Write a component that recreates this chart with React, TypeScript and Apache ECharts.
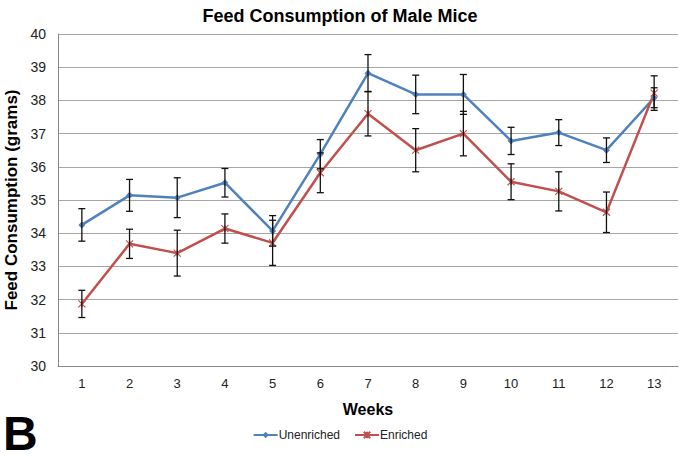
import React, { useEffect, useRef } from "react";
import * as echarts from "echarts";

const weeks = ["1", "2", "3", "4", "5", "6", "7", "8", "9", "10", "11", "12", "13"];
const unenriched = [34.25, 35.14, 35.07, 35.52, 34.07, 36.38, 38.82, 38.18, 38.18, 36.78, 37.03, 36.5, 38.08];
const unenrichedErr = [0.49, 0.48, 0.6, 0.43, 0.46, 0.44, 0.56, 0.58, 0.6, 0.41, 0.39, 0.37, 0.3];
const enriched = [31.87, 33.68, 33.4, 34.14, 33.71, 35.82, 37.6, 36.5, 37.0, 35.55, 35.26, 34.63, 38.22];
const enrichedErr = [0.41, 0.44, 0.69, 0.44, 0.68, 0.6, 0.67, 0.65, 0.67, 0.54, 0.59, 0.61, 0.52];

const FONT = "Liberation Sans, Arial, sans-serif";
const BLUE = "#4F81BD";
const RED = "#C0504D";
const XPATH = "path://M0,0 L10,10 M10,0 L0,10 M5,0 L5,10";

function errData(vals: number[], errs: number[]) {
  return vals.map((v, i) => [i, v - errs[i], v + errs[i]]);
}

function errSeries(name: string, vals: number[], errs: number[]) {
  return {
    type: "custom",
    name: name + "_err",
    z: 5,
    silent: true,
    data: errData(vals, errs),
    renderItem: (params: any, api: any) => {
      const x = api.value(0);
      const lo = api.coord([x, api.value(1)]);
      const hi = api.coord([x, api.value(2)]);
      const w = 3.5;
      const style = { stroke: "#111", lineWidth: 1.3 };
      return {
        type: "group",
        children: [
          { type: "line", shape: { x1: lo[0], y1: lo[1], x2: hi[0], y2: hi[1] }, style },
          { type: "line", shape: { x1: lo[0] - w, y1: lo[1], x2: lo[0] + w, y2: lo[1] }, style },
          { type: "line", shape: { x1: hi[0] - w, y1: hi[1], x2: hi[0] + w, y2: hi[1] }, style },
        ],
      };
    },
  };
}

export default function App() {
  const ref = useRef<HTMLDivElement>(null);
  useEffect(() => {
    if (!ref.current) return;
    const chart = echarts.init(ref.current, undefined, { renderer: "svg" });
    chart.setOption({
      animation: false,
      backgroundColor: "#fff",
      title: {
        text: "Feed Consumption of Male Mice",
        left: "center",
        top: 2,
        textStyle: { fontFamily: FONT, fontSize: 18, fontWeight: "bold", color: "#000" },
      },
      legend: {
        data: ["Unenriched", "Enriched"],
        bottom: 10,
        left: "center",
        itemWidth: 24,
        itemHeight: 8,
        itemGap: 14,
        textStyle: { fontFamily: FONT, fontSize: 12, color: "#222", padding: [0, 0, 0, -4] },
      },
      grid: { left: 58, right: 2, top: 34, bottom: 90, outerBoundsMode: "none", containLabel: false },
      xAxis: {
        type: "category",
        data: weeks,
        boundaryGap: true,
        name: "Weeks",
        nameLocation: "middle",
        nameGap: 35,
        nameTextStyle: { fontFamily: FONT, fontSize: 16, fontWeight: "bold", color: "#000" },
        axisLine: { lineStyle: { color: "#888", width: 1 } },
        axisTick: { show: false },
        axisLabel: { fontFamily: FONT, fontSize: 13, color: "#222", margin: 11 },
      },
      yAxis: {
        type: "value",
        min: 30,
        max: 40,
        interval: 1,
        name: "Feed Consumption (grams)",
        nameLocation: "middle",
        nameGap: 34,
        nameTextStyle: { fontFamily: FONT, fontSize: 17, fontWeight: "bold", color: "#000" },
        axisLine: { show: true, lineStyle: { color: "#888", width: 1 } },
        axisTick: { show: false },
        axisLabel: { fontFamily: FONT, fontSize: 14, color: "#222", margin: 12 },
        splitLine: { lineStyle: { color: "#a6a6a6", width: 1 } },
      },
      graphic: [
        {
          type: "text",
          left: 3,
          top: 409,
          style: { text: "B", font: "bold 48px " + FONT, lineHeight: 38, fill: "#000" },
        },
      ],
      series: [
        {
          type: "line",
          name: "Unenriched",
          data: unenriched,
          z: 3,
          symbol: "diamond",
          symbolSize: 7,
          itemStyle: { color: BLUE },
          lineStyle: { color: BLUE, width: 2.5 },
        },
        {
          type: "line",
          name: "Enriched",
          data: enriched,
          z: 3,
          symbol: XPATH,
          symbolSize: 7,
          itemStyle: { color: RED, borderColor: RED, borderWidth: 1.2 },
          lineStyle: { color: RED, width: 2.5 },
        },
        errSeries("Unenriched", unenriched, unenrichedErr),
        errSeries("Enriched", enriched, enrichedErr),
      ],
    });
    return () => chart.dispose();
  }, []);
  return <div ref={ref} style={{ width: 680, height: 456, position: "absolute", left: 0, top: 0 }} />;
}
